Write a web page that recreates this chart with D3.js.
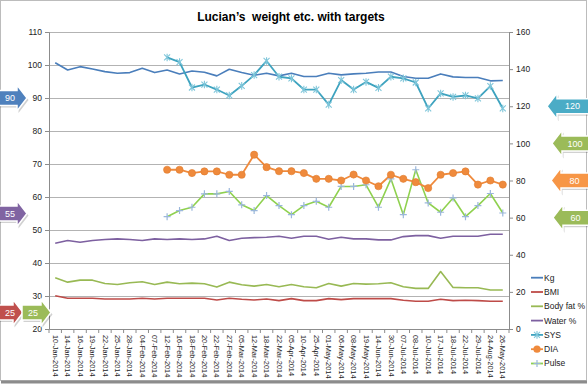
<!DOCTYPE html>
<html><head><meta charset="utf-8">
<script src="https://cdn.jsdelivr.net/npm/d3@7"></script>
<style>body{margin:0;background:#fff}svg{display:block}text{font-family:"Liberation Sans",Arial,sans-serif}</style>
</head><body><svg id="c" width="588" height="384"></svg>
<script>
const categories = ["10-Jan-2014","14-Jan-2014","16-Jan-2014","19-Jan-2014","22-Jan-2014","25-Jan-2014","28-Jan-2014","04-Feb-2014","07-Feb-2014","12-Feb-2014","16-Feb-2014","18-Feb-2014","20-Feb-2014","22-Feb-2014","27-Feb-2014","05-Mar-2014","12-Mar-2014","18-Mar-2014","22-Mar-2014","05-Apr-2014","10-Apr-2014","25-Apr-2014","01-May-2014","06-May-2014","08-May-2014","19-May-2014","14-Jun-2014","30-Jun-2014","07-Jul-2014","08-Jul-2014","10-Jul-2014","17-Jul-2014","18-Jul-2014","22-Jul-2014","29-Jul-2014","24-Aug-2014","26-May-2014"];
const kg =      [100.7,98.5,99.5,98.8,98.0,97.5,97.7,99.0,97.7,98.5,97.3,98.2,97.8,96.7,98.7,97.7,96.9,97.5,96.7,97.5,96.5,96.5,97.5,97.0,97.3,97.5,97.9,97.9,96.5,96.0,96.0,97.3,96.4,96.2,96.2,95.2,95.3];
const bmi =     [30.1,29.3,29.3,29.3,29.1,29.1,29.1,29.3,29.1,29.3,29.3,29.3,29.3,28.8,29.3,29.0,28.8,29.1,28.6,29.2,28.6,28.6,29.2,28.9,29.2,29.2,29.2,29.2,28.7,28.4,28.4,29.0,28.6,28.7,28.6,28.4,28.4];
const bodyFat = [35.5,34.2,34.8,34.8,33.8,33.5,34.0,34.3,33.5,34.2,33.7,33.9,33.7,32.7,34.2,33.4,33.0,33.5,32.8,33.5,32.8,32.5,33.8,33.0,33.8,33.6,33.7,34.0,32.8,32.3,32.3,37.4,32.6,32.5,32.5,31.8,31.8];
const water =   [46.0,46.8,46.3,46.8,47.1,47.3,47.1,46.8,47.3,47.1,47.3,47.1,47.3,48.1,46.8,47.5,47.7,47.8,48.1,47.5,48.1,48.1,47.2,47.8,47.3,47.3,47.0,47.0,48.0,48.3,48.3,47.5,48.1,48.1,48.1,48.7,48.7];
const sys =     [null,null,null,null,null,null,null,null,null,146.3,143.8,130.1,131.7,129.0,125.8,131.0,136.8,144.4,135.9,135.0,129.0,129.0,120.9,134.1,129.0,133.1,129.9,135.9,135.0,132.8,118.8,126.9,125.0,125.8,124.2,130.9,118.8];
const dia =     [null,null,null,null,null,null,null,null,null,85.8,85.8,84.0,84.9,84.9,83.1,83.1,93.9,87.2,85.0,85.0,84.0,80.9,80.9,80.0,83.2,80.0,76.9,83.1,80.9,79.1,75.9,83.1,84.0,84.9,77.8,80.0,77.8];
const pulse =   [null,null,null,null,null,null,null,null,null,60.5,63.8,65.6,72.8,72.8,74.1,66.9,63.8,71.9,66.5,61.6,66.5,68.8,65.6,76.8,76.8,77.7,65.6,80.9,61.6,85.8,67.9,62.9,70.6,60.5,66.5,73.0,62.5];
const seriesNames = ["Kg","BMI","Body fat %","Water %","SYS","DIA","Pulse"];
const leftTicks = [20,30,40,50,60,70,80,90,100,110];
const rightTicks = [0,20,40,60,80,100,120,140,160];
const leftTargets = [90,55,25,25];
const rightTargets = [120,100,80,60];
const titleText = "Lucian\u2019s  weight etc. with targets";

const svg = d3.select("#c");
const W=588,H=384;
const m = {l:49,r:509,t:32,b:329};
const x = d3.scaleBand().domain(categories).range([m.l,m.r]);
const yL = d3.scaleLinear().domain([20,110]).range([m.b,m.t]);
const yR = d3.scaleLinear().domain([0,160]).range([m.b,m.t]);
const cx = d => x(d)+x.bandwidth()/2;

// frame
svg.append("rect").attr("x",0.5).attr("y",0.5).attr("width",W-2).attr("height",H-4).attr("fill","#fff").attr("stroke","#bcbcbc");
svg.append("line").attr("x1",1).attr("x2",W-1).attr("y1",H-2).attr("y2",H-2).attr("stroke","#8c8c8c").attr("stroke-width",3);

// title
svg.append("text").attr("x",291).attr("y",21).attr("text-anchor","middle").attr("font-weight","bold").attr("font-size",12).attr("fill","#000").style("white-space","pre").attr("xml:space","preserve").text(titleText);

// gridlines
svg.append("g").selectAll("line").data(leftTicks.filter(v=>v>20)).join("line")
  .attr("x1",m.l).attr("x2",m.r).attr("y1",d=>Math.round(yL(d))+0.5).attr("y2",d=>Math.round(yL(d))+0.5)
  .attr("stroke","#b3b3b3").attr("stroke-width",1);

// axes
const axL = svg.append("g").attr("transform",`translate(${m.l},0)`).call(d3.axisLeft(yL).tickValues(leftTicks).tickSize(4).tickPadding(3));
const axR = svg.append("g").attr("transform",`translate(${m.r},0)`).call(d3.axisRight(yR).tickValues(rightTicks).tickSize(4).tickPadding(3));
const axB = svg.append("g").attr("transform",`translate(0,${m.b})`).call(d3.axisBottom(x).tickSize(0).tickPadding(6));
[axL,axR,axB].forEach(a=>{a.select(".domain").attr("stroke","#8c8c8c");a.selectAll(".tick line").attr("stroke","#8c8c8c");a.selectAll("text").attr("font-size",8.5).attr("fill","#222").attr("font-family","Liberation Sans, Arial, sans-serif");});
axB.selectAll("text").attr("font-size",7.4).attr("transform","rotate(90)").attr("text-anchor","start").attr("dy","0.32em").attr("x",6).attr("y",0);
// bottom tick marks between categories
svg.append("g").selectAll("line").data(categories.concat(["__end"])).join("line")
  .attr("x1",(d,i)=>m.l+i*x.step()).attr("x2",(d,i)=>m.l+i*x.step()).attr("y1",m.b).attr("y2",m.b+4).attr("stroke","#8c8c8c");

// lines
const colors = {kg:"#4a7ebb",bmi:"#be4b48",fat:"#98b954",water:"#7d60a0",sys:"#3ea3bf",dia:"#ef8a3c",pulse:"#8fd14f"};
function drawLine(vals,scale,color,w){
  const line = d3.line().defined(d=>d[1]!=null).x(d=>cx(d[0])).y(d=>scale(d[1]));
  svg.append("path").datum(categories.map((c,i)=>[c,vals[i]])).attr("d",line).attr("fill","none").attr("stroke",color).attr("stroke-width",w).attr("stroke-linejoin","round");
}
drawLine(water,yL,colors.water,1.6);
drawLine(bodyFat,yL,colors.fat,1.6);
drawLine(bmi,yL,colors.bmi,1.6);
drawLine(kg,yL,colors.kg,1.6);
drawLine(pulse,yR,colors.pulse,1.6);
drawLine(dia,yR,colors.dia,1.8);
drawLine(sys,yR,colors.sys,1.8);

const starPath="M-3,-3L3,3M-3,3L3,-3M0,-3.8L0,3.8";
const plusPath="M-3.5,0H3.5M0,-3.5V3.5";
function markers(vals,scale,fn){
  const pts = categories.map((c,i)=>[c,vals[i]]).filter(d=>d[1]!=null);
  const g = svg.append("g").selectAll("g").data(pts).join("g").attr("transform",d=>`translate(${cx(d[0])},${scale(d[1])})`);
  fn(g);
}
markers(pulse,yR,g=>g.append("path").attr("d",plusPath).attr("stroke","#9bb7dc").attr("stroke-width",1.2));
markers(dia,yR,g=>g.append("circle").attr("r",3.6).attr("fill","#ef8a3c").attr("stroke","#e07c2e").attr("stroke-width",0.6));
markers(sys,yR,g=>g.append("path").attr("d",starPath).attr("stroke","#7fc6da").attr("stroke-width",1.1));

// legend
const legY0=277.7, legStep=14.3;
const leg = svg.append("g");
const legendColors=[colors.kg,colors.bmi,colors.fat,colors.water,colors.sys,colors.dia,colors.pulse];
seriesNames.forEach((n,i)=>{
  const y=legY0+i*legStep;
  leg.append("line").attr("x1",531).attr("x2",543).attr("y1",y).attr("y2",y).attr("stroke",legendColors[i]).attr("stroke-width",1.8);
  const g=leg.append("g").attr("transform",`translate(537,${y})`);
  if(i===4) g.append("path").attr("d",starPath).attr("stroke","#7fc6da").attr("stroke-width",1.1);
  if(i===5) g.append("circle").attr("r",3.6).attr("fill","#ef8a3c");
  if(i===6) g.append("path").attr("d",plusPath).attr("stroke","#9bb7dc").attr("stroke-width",1.2);
  leg.append("text").attr("x",544).attr("y",y).attr("dy","0.35em").attr("font-size",8.5).attr("fill","#222").text(n);
});

// target arrows
function arrowPath(x0,tipX,yc,bh,hh,neck){
  return `M${x0},${yc-bh}H${neck}V${yc-hh}L${tipX},${yc}L${neck},${yc+hh}V${yc+bh}H${x0}Z`;
}
function drawArrow(x0,neck,tipX,yc,color,label,tx){
  const d=arrowPath(x0,tipX,yc,7.5,13,neck);
  svg.append("path").attr("d",d).attr("transform","translate(1.5,2)").attr("fill","#000").attr("opacity",0.18);
  svg.append("path").attr("d",d).attr("fill",color).attr("stroke","#fff").attr("stroke-width",1.5);
  svg.append("text").attr("x",tx).attr("y",yc).attr("dy","0.35em").attr("text-anchor","middle").attr("font-size",9).attr("fill","#fff").text(label);
}
const leftArrowColors=["#4f81bd","#8064a2","#c0504d","#9bbb59"];
const leftArrowX=[[-2,17,27],[-2,17,27],[-2,13,23],[22,41,51]];
leftTargets.forEach((v,i)=>{
  const [a,b,c]=leftArrowX[i];
  drawArrow(a,b,c,yL(v),leftArrowColors[i],String(v),i===3?33:10);
});
const rightArrowColors=["#4bacc6","#9bbb59","#f79646","#9bbb59"];
const rightTipX=[547,552,551,553];
rightTargets.forEach((v,i)=>{
  const tip=rightTipX[i];
  drawArrow(W+2,tip+10,tip,yR(v),rightArrowColors[i],String(v),(tip+10+W)/2);
});
</script></body></html>
